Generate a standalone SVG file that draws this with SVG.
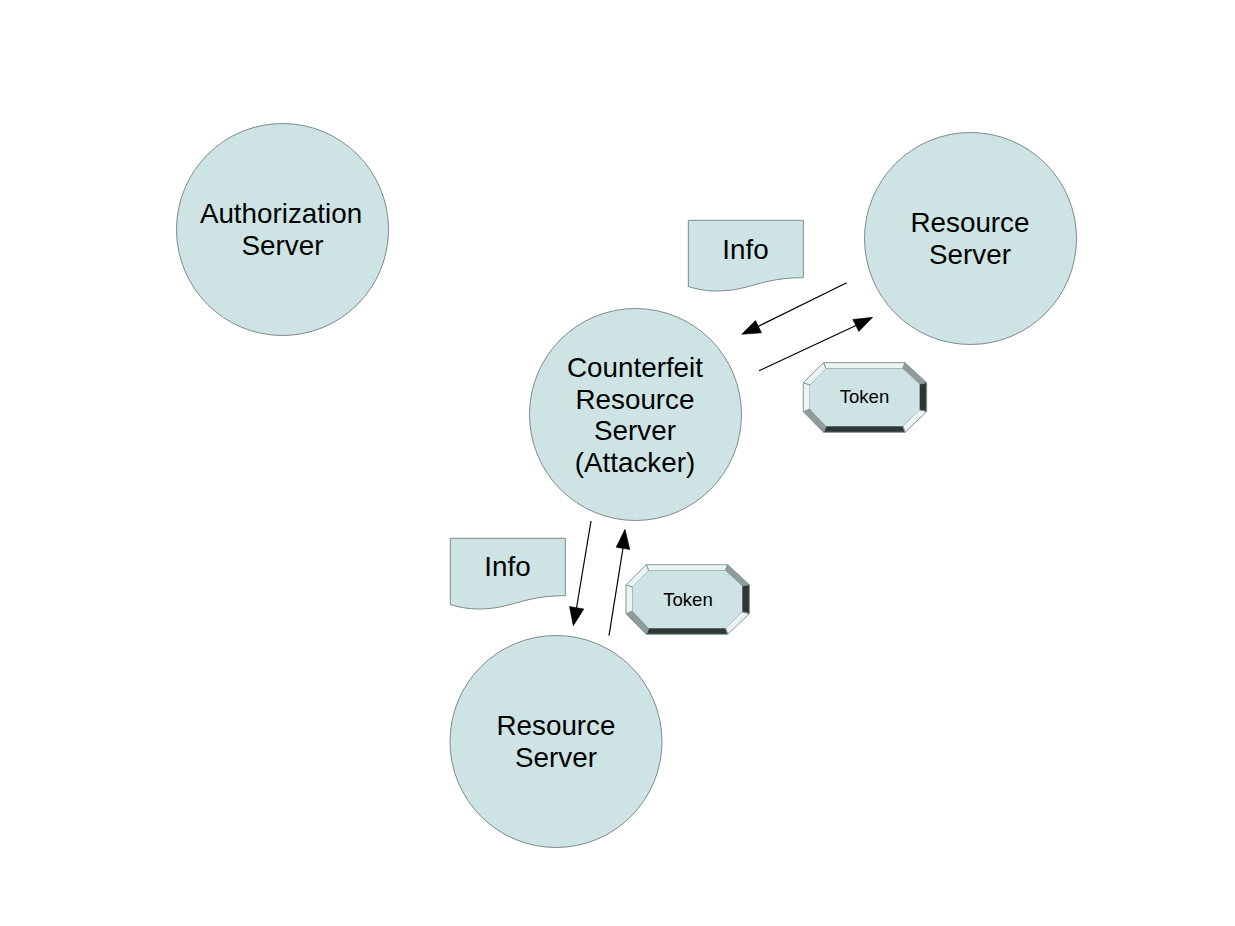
<svg xmlns="http://www.w3.org/2000/svg" xmlns:xlink="http://www.w3.org/1999/xlink" width="1235" height="926" viewBox="0 0 1235 926">
<style>
text{font-family:"Liberation Sans",Arial,sans-serif;fill:#000;text-anchor:middle}
.l{font-size:27.8px}
.s{font-size:18.600px}
.c{fill:#cee4e4;stroke:#7f8a8a;stroke-width:1}
.a{fill:none;stroke:#000;stroke-width:1.2}
.h{fill:#000;stroke:#000;stroke-width:.6;stroke-linejoin:miter}
.b{stroke:#8a9595;stroke-width:1;stroke-linejoin:round}
.lt{fill:#ebf4f4}.md{fill:#8f9b9b}.dk{fill:#2e3636}
</style>
<defs>
<g id="token">
<path class="b lt" d="M823.5 362.7H905L902.7 368.7H826Z"/>
<path class="b md" d="M905 362.7L926.7 382.7L919.3 384L902.7 368.7Z"/>
<path class="b dk" d="M926.7 382.7V411.7L919.3 410V384Z"/>
<path class="b lt" d="M926.7 411.7L905 432.3L902.7 426L919.3 410Z"/>
<path class="b dk" d="M905 432.3H823.5L826 426H902.700Z"/>
<path class="b md" d="M823.5 432.3L803.3 411.7L810 409L826 426Z"/>
<path class="b lt" d="M803.3 411.7V382.7L810 385V409Z"/>
<path class="b lt" d="M803.3 382.7L823.5 362.7L826 368.7L810 385Z"/>
<path fill="#cee4e4" d="M826 368.7H902.7L919.3 384V410L902.7 426H826L810 409V385Z"/>
</g>
<path id="doc" class="c" d="M688.3 220.3H803.3V277.7C760 277.7 750 291 716.7 291C705 291 697 289 688.3 286.7Z"/>
</defs>
<g id="connectors">
<g id="edge-rs1-cf"><path class="a" d="M846.7 282.7L757 327"/><path class="h" d="M741.7 334.3L755.5 320.5L761.5 332.8Z"/></g>
<g id="edge-cf-rs1"><path class="a" d="M759 370.7L857 325"/><path class="h" d="M872.7 317.3L858.8 331.5L852.8 319.5Z"/></g>
<g id="edge-cf-rs2"><path class="a" d="M591 521L576.500 608"/><path class="h" d="M573.3 625.7L569.5 606.5L583.8 609Z"/></g>
<g id="edge-rs2-cf"><path class="a" d="M609 635.7L623 548"/><path class="h" d="M625 529.3L629.8 549.5L616.2 547.2Z"/></g>
</g>
<g id="auth-server"><circle class="c" cx="282.5" cy="229.5" r="106"/><text class="l" x="281" y="223">Authorization</text><text class="l" x="282.5" y="255">Server</text></g>
<g id="resource-server-1"><circle class="c" cx="970.5" cy="238.5" r="106"/><text class="l" x="970" y="232">Resource</text><text class="l" x="970" y="264">Server</text></g>
<g id="counterfeit-server"><circle class="c" cx="635.5" cy="414.5" r="106"/><text class="l" x="635" y="377">Counterfeit</text><text class="l" x="635" y="409">Resource</text><text class="l" x="635" y="440">Server</text><text class="l" x="635" y="472">(Attacker)</text></g>
<g id="resource-server-2"><circle class="c" cx="556" cy="741.5" r="106"/><text class="l" x="556" y="735">Resource</text><text class="l" x="556" y="767">Server</text></g>
<g id="info-1"><use xlink:href="#doc"/><text class="l" x="745.500" y="259">Info</text></g>
<g id="info-2"><use xlink:href="#doc" transform="translate(-238 318)"/><text class="l" x="507.500" y="576">Info</text></g>
<g id="token-1"><use xlink:href="#token"/><text class="s" x="864.500" y="403">Token</text></g>
<g id="token-2"><use xlink:href="#token" transform="translate(-177.300 202)"/><text class="s" x="688" y="606">Token</text></g>
</svg>
